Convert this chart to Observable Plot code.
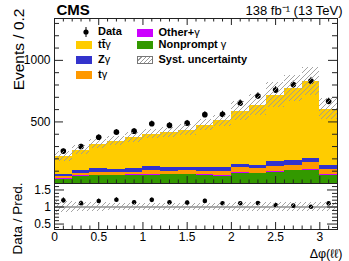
<!DOCTYPE html>
<html><head><meta charset="utf-8">
<script src="https://cdn.jsdelivr.net/npm/d3@7"></script>
<script src="https://cdn.jsdelivr.net/npm/@observablehq/plot@0.6"></script>
<style>
html,body{margin:0;padding:0;background:#fff;}
#chart{position:relative;width:349px;height:261px;overflow:hidden;font-family:"Liberation Sans",Arial,Helvetica,sans-serif;}
#chart svg.plot, #chart > svg{position:absolute;left:0;}
.lg{position:absolute;font-weight:bold;font-size:11px;line-height:11px;white-space:nowrap;color:#000;}
.lg .g{font-weight:normal;}
.sw{position:absolute;width:16px;height:8px;}
</style></head>
<body>
<svg width="0" height="0" style="position:absolute">
  <defs>
    <pattern id="hatch" patternUnits="userSpaceOnUse" width="5" height="5">
      <path d="M-1,1 l2,-2 M0,5 l5,-5 M4,6 l2,-2" stroke="#9a9a9a" stroke-width="0.9"/>
    </pattern>
  </defs>
</svg>
<div id="chart"></div>
<script>
// ---------------- data ----------------
const xEdges = [0,0.2,0.4,0.6,0.8,1.0,1.2,1.4,1.6,1.8,2.0,2.2,2.4,2.6,2.8,3.0,3.2];
const dataCounts = [263,301,376,417,425,485,472,490,559,563,653,710,759,803,833,667];
const nonprompt  = [32,54,62,62,68,68,73,70,68,60,81,79,87,103,108,65];
const otherGamma = [5,8,4,4,4,5,4,4,3,5,8,3,8,5,6,11];
const tGamma     = [16,19,23,23,20,33,23,29,29,33,38,43,41,41,54,38];
const zGamma     = [22,22,33,28,30,32,27,24,27,28,27,24,40,41,35,30];
const ttGamma    = [145,168,198,227,252,263,288,307,347,382,434,488,542,582,624,458];
const systFrac   = [0.17,0.13,0.12,0.10,0.10,0.09,0.10,0.10,0.10,0.09,0.13,0.13,0.14,0.14,0.14,0.14];
const procNames  = ["Nonprompt γ","Other+γ","tγ","Zγ","tt\u0304γ"];
const procColors = ["#339900","#cc00ff","#ff9900","#3333cc","#ffcc00"];
const xMajorTicks = [0,0.5,1,1.5,2,2.5,3];
const yMainMajor = [500,1000];
const yRatioMajor = [0.5,1,1.5];

// --------------- derived ---------------
const FONT = '"Liberation Sans",Arial,Helvetica,sans-serif';
const procVals = [nonprompt, otherGamma, tGamma, zGamma, ttGamma];
const bins = dataCounts.map((d, i) => {
  const total = procVals.reduce((s, v) => s + v[i], 0);
  return {x1: xEdges[i], x2: xEdges[i+1], xc: (xEdges[i]+xEdges[i+1])/2, data: d, total, u: systFrac[i]};
});
const stackRows = [];
bins.forEach((b, i) => {
  let acc = 0;
  procVals.forEach((v, k) => {
    stackRows.push({x1: b.x1, x2: b.x2, y1: acc, y2: acc + v[i], color: procColors[k]});
    acc += v[i];
  });
});
const xMinor = d3.range(1, 32).filter(i => i % 5 !== 0).map(i => i / 10);
const yMainMinor = d3.range(100, 1340, 100).filter(v => v % 500 !== 0);
const yRatioMinor = d3.range(4, 17).filter(i => i % 5 !== 0).map(i => i / 10);

const W = 349, mL = 54, mR = 12;
const FW = W - mL - mR;
const TK = "#222";

function yTicks(vals, len, side) {
  const o = {y: d => d, stroke: TK};
  if (side === "left") o.insetRight = FW - len; else o.insetLeft = FW - len;
  return Plot.tickY(vals, o);
}
function xTicks(vals, len, side, FH) {
  const o = {x: d => d, stroke: TK};
  if (side === "bottom") o.insetTop = FH - len; else o.insetBottom = FH - len;
  return Plot.tickX(vals, o);
}

const MH = 184, MT = 18, MB = 1, MFH = MH - MT - MB;
const main = Plot.plot({
  width: W, height: MH, marginTop: MT, marginBottom: MB, marginLeft: mL, marginRight: mR,
  x: {domain: [0, 3.2], axis: null},
  y: {domain: [0, 1340], axis: null},
  color: {type: "identity"},
  style: {fontFamily: FONT, background: "transparent", overflow: "visible"},
  marks: [
    Plot.rect(stackRows, {x1: "x1", x2: "x2", y1: "y1", y2: "y2", fill: "color", shapeRendering: "crispEdges"}),
    Plot.ruleX(bins, {x: "xc", y1: d => d.data - Math.sqrt(d.data), y2: d => d.data + Math.sqrt(d.data), stroke: "#000"}),
    Plot.dot(bins, {x: "xc", y: "data", r: 2.8, fill: "#000", stroke: "none"}),
    Plot.rect(bins, {x1: "x1", x2: "x2", y1: d => d.total*(1-d.u), y2: d => d.total*(1+d.u), fill: "url(#hatch)", shapeRendering: "crispEdges"}),
    Plot.frame({stroke: TK}),
    yTicks(yMainMinor, 5, "left"),
    yTicks(yMainMajor, 9, "left"),
    yTicks(yMainMinor, 5, "right"),
    yTicks(yMainMajor, 9, "right"),
    xTicks(xMinor, 3.5, "bottom", MFH),
    xTicks(xMajorTicks, 7, "bottom", MFH),
    xTicks(xMinor, 3.5, "top", MFH),
    xTicks(xMajorTicks, 7, "top", MFH),
    Plot.text(yMainMajor, {y: d => d, text: d => String(d), frameAnchor: "left", dx: -4, textAnchor: "end", fontSize: 12, fill: "#000"}),
    Plot.text(["Events / 0.2"], {text: d => d, frameAnchor: "top-left", dx: -42, dy: -10, rotate: -90, textAnchor: "end", fontSize: 15.5, fill: "#000"}),
    Plot.text(["CMS"], {text: d => d, frameAnchor: "top-left", dx: 2, dy: -3.5, lineAnchor: "bottom", textAnchor: "start", fontSize: 15, fontWeight: "bold", fill: "#000"}),
    Plot.text(["138 fb\u207B\u00B9 (13 TeV)"], {text: d => d, frameAnchor: "top-right", dx: 5, dy: -3.5, lineAnchor: "bottom", textAnchor: "end", fontSize: 13, fill: "#000"})
  ]
});
main.style.top = "0px";

const RH = 78, RT = 0, RB = 32, RFH = RH - RT - RB;
const ratio = Plot.plot({
  width: W, height: RH, marginTop: RT, marginBottom: RB, marginLeft: mL, marginRight: mR,
  x: {domain: [0, 3.2], axis: null},
  y: {domain: [0.34, 1.69], axis: null},
  style: {fontFamily: FONT, background: "transparent", overflow: "visible"},
  marks: [
    Plot.ruleY([1], {stroke: "#555"}),
    Plot.ruleX(bins, {x: "xc", y1: d => (d.data - Math.sqrt(d.data))/d.total, y2: d => (d.data + Math.sqrt(d.data))/d.total, stroke: "#000"}),
    Plot.dot(bins, {x: "xc", y: d => d.data / d.total, r: 2.3, fill: "#000", stroke: "none"}),
    Plot.rect(bins, {x1: "x1", x2: "x2", y1: d => 1 - d.u, y2: d => 1 + d.u, fill: "url(#hatch)", shapeRendering: "crispEdges"}),
    Plot.frame({stroke: TK}),
    yTicks(yRatioMinor, 5, "left"),
    yTicks(yRatioMajor, 10, "left"),
    yTicks(yRatioMinor, 5, "right"),
    yTicks(yRatioMajor, 10, "right"),
    xTicks(xMinor, 3.5, "bottom", RFH),
    xTicks(xMajorTicks, 7, "bottom", RFH),
    Plot.text(yRatioMajor, {y: d => d, text: d => String(d), frameAnchor: "left", dx: -3.5, textAnchor: "end", fontSize: 12, fill: "#000"}),
    Plot.text(xMajorTicks, {x: d => d, text: d => String(d), frameAnchor: "bottom", dy: 3, lineAnchor: "top", fontSize: 12, fill: "#000"}),
    Plot.text(["Data / Pred."], {text: d => d, frameAnchor: "top-left", dx: -42, dy: -1, rotate: -90, textAnchor: "end", fontSize: 13.5, fill: "#000"}),
    Plot.text(["\u0394\u03C6(\u2113\u2113)"], {text: d => d, frameAnchor: "bottom-right", dx: 5, dy: 28, lineAnchor: "bottom", textAnchor: "end", fontSize: 12.5, fill: "#000"})
  ]
});
ratio.style.top = "183px";

const chart = document.getElementById("chart");
chart.appendChild(main);
chart.appendChild(ratio);
main.style.position = "absolute"; ratio.style.position = "absolute";

// --------------- legend (HTML overlay) ---------------
function label(name) {
  return name.replace(/γ/g, '<span class="g">γ</span>');
}
function addText(txt, x, yc) {
  const el = document.createElement("div");
  el.className = "lg";
  el.innerHTML = label(txt);
  el.style.left = x + "px";
  el.style.top = (yc - 6) + "px";
  chart.appendChild(el);
}
function addSwatch(x, yc, bg) {
  const el = document.createElement("div");
  el.className = "sw";
  el.style.left = x + "px";
  el.style.top = (yc - 4) + "px";
  el.style.background = bg;
  chart.appendChild(el);
  return el;
}
(function(){
  const s = document.createElementNS("http://www.w3.org/2000/svg", "svg");
  s.setAttribute("width", 10); s.setAttribute("height", 14);
  s.style.position = "absolute"; s.style.left = "80.5px"; s.style.top = "25px";
  s.innerHTML = '<line x1="5" x2="5" y1="2" y2="12" stroke="#000"/><circle cx="5" cy="7" r="2.6" fill="#000"/>';
  chart.appendChild(s);
})();
addText("Data", 98, 32);
const col1 = [[4, 44.5], [3, 59.5], [2, 74.5]];
col1.forEach(([k, yc]) => { addSwatch(76, yc, procColors[k]); addText(procNames[k], 98, yc); });
const col2 = [[1, 32.5], [0, 44.5]];
col2.forEach(([k, yc]) => { addSwatch(137, yc, procColors[k]); addText(procNames[k], 158.5, yc); });
const hs = addSwatch(137, 59.5, "repeating-linear-gradient(135deg, #fff 0 2px, #9a9a9a 2px 3px)");
hs.style.boxSizing = "border-box"; hs.style.border = "1px solid #777";
addText("Syst. uncertainty", 158.5, 59.5);
</script>
</body></html>
